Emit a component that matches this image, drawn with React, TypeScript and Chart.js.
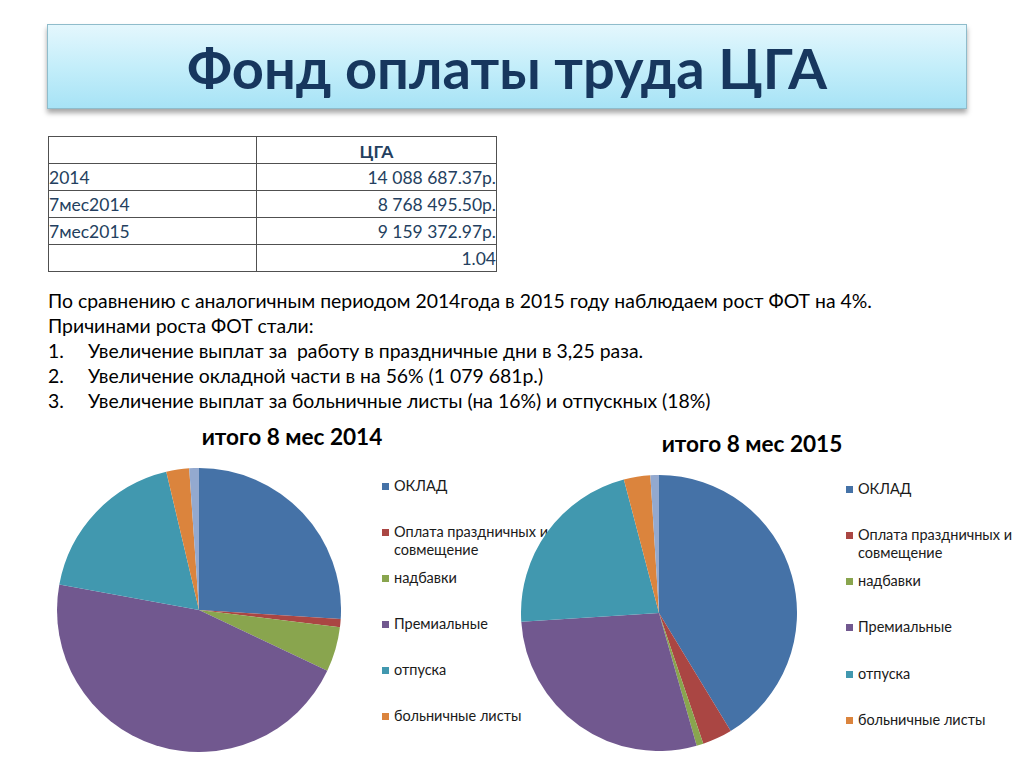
import React, { useEffect, useRef } from "react";
import { Chart, registerables } from "chart.js";

Chart.register(...registerables);

const categories = [
  "ОКЛАД",
  "Оплата праздничных и совмещение",
  "надбавки",
  "Премиальные",
  "отпуска",
  "больничные листы",
  "прочие",
];
const values2014 = [26.0, 0.92, 5.1, 45.8, 18.4, 2.6, 1.1];
const values2015 = [41.3, 3.5, 0.8, 28.4, 21.9, 3.1, 1.0];
const sliceColors = ["#4572A7", "#AA4643", "#89A54E", "#71588F", "#4198AF", "#DB843D", "#93A9CF"];
const legendCount = 6;

const tableHeader = "ЦГА";
const tableRowLabels = ["2014", "7мес2014", "7мес2015", ""];
const tableRowValues = ["14 088 687.37р.", "8 768 495.50р.", "9 159 372.97р.", "1.04"];

const introLines = [
  "По сравнению с аналогичным периодом 2014года в 2015 году наблюдаем рост ФОТ на 4%.",
  "Причинами роста ФОТ стали:",
];
const reasons = [
  "Увеличение выплат за  работу в праздничные дни в 3,25 раза.",
  "Увеличение окладной части в на 56% (1 079 681р.)",
  "Увеличение выплат за больничные листы (на 16%) и отпускных (18%)",
];

const FONT = "Lato, 'Open Sans', sans-serif";

function Pie({ values, left, top, size }: { values: number[]; left: number; top: number; size: number }) {
  const ref = useRef<HTMLCanvasElement | null>(null);
  useEffect(() => {
    if (!ref.current) return;
    const chart = new Chart(ref.current, {
      type: "pie",
      data: {
        labels: categories,
        datasets: [
          {
            data: values,
            backgroundColor: sliceColors,
            borderWidth: 0,
          },
        ],
      },
      options: {
        animation: false,
        responsive: false,
        maintainAspectRatio: false,
        layout: { padding: 0 },
        plugins: {
          legend: { display: false },
          tooltip: { enabled: false },
          title: { display: false },
        },
      },
    });
    return () => chart.destroy();
  }, [values]);
  return (
    <canvas
      ref={ref}
      width={size}
      height={size}
      style={{ position: "absolute", left, top, width: size, height: size }}
    />
  );
}

function Legend({ left, tops }: { left: number; tops: number[] }) {
  return (
    <>
      {categories.slice(0, legendCount).map((c, i) => (
        <div
          key={c}
          style={{
            position: "absolute",
            left,
            top: tops[i],
            width: 175,
            fontFamily: FONT,
            fontSize: 14.5,
            lineHeight: "18.3px",
            color: "#1a1a1a",
            display: "flex",
            alignItems: "flex-start",
          }}
        >
          <span
            style={{
              display: "inline-block",
              width: 7,
              height: 7,
              marginTop: 5.5,
              marginRight: 5,
              background: sliceColors[i],
              flex: "0 0 auto",
            }}
          />
          <span style={{ width: 156 }}>{c}</span>
        </div>
      ))}
    </>
  );
}

export default function App() {
  const rowTop = 136;
  const rowH = 27;
  return (
    <div
      style={{
        position: "fixed",
        left: 0,
        top: 0,
        width: 1024,
        height: 768,
        background: "#ffffff",
        overflow: "hidden",
      }}
    >
      {/* Title box */}
      <div
        style={{
          position: "absolute",
          left: 47,
          top: 24,
          width: 920,
          height: 85,
          background: "linear-gradient(to bottom, #e4f7fd 0%, #c4eefa 50%, #a7e3f6 100%)",
          border: "1px solid #8fbccb",
          boxShadow: "0 4px 5px rgba(0,0,0,0.35)",
          display: "flex",
          alignItems: "center",
          justifyContent: "center",
          fontFamily: FONT,
          fontWeight: 700,
          fontSize: 56,
          color: "#17375E",
          paddingTop: 2,
          boxSizing: "border-box",
        }}
      >
        Фонд оплаты труда ЦГА
      </div>

      {/* Table */}
      <table
        style={{
          position: "absolute",
          left: 48,
          top: rowTop,
          borderCollapse: "collapse",
          fontFamily: FONT,
          fontSize: 17.5,
          color: "#243F60",
        }}
      >
        <tbody>
          <tr style={{ height: rowH }}>
            <td style={{ width: 207, border: "1px solid #505050", padding: 0 }} />
            <td
              style={{
                width: 239,
                border: "1px solid #505050",
                padding: 0,
                paddingTop: 2,
                textAlign: "center",
                fontWeight: 700,
              }}
            >
              {tableHeader}
            </td>
          </tr>
          {tableRowLabels.map((l, i) => (
            <tr key={i} style={{ height: rowH }}>
              <td style={{ border: "1px solid #505050", padding: 0, paddingTop: 2, lineHeight: "22px" }}>{l}</td>
              <td
                style={{
                  border: "1px solid #505050",
                  padding: 0,
                  paddingTop: 2,
                  lineHeight: "22px",
                  textAlign: "right",
                }}
              >
                {tableRowValues[i]}
              </td>
            </tr>
          ))}
        </tbody>
      </table>

      {/* Text */}
      <div
        style={{
          position: "absolute",
          left: 48,
          top: 288,
          fontFamily: FONT,
          fontSize: 19.4,
          lineHeight: "25px",
          color: "#000",
          whiteSpace: "pre",
        }}
      >
        {introLines.map((t, i) => (
          <div key={i}>{t}</div>
        ))}
        {reasons.map((t, i) => (
          <div key={"r" + i} style={{ display: "flex" }}>
            <span style={{ width: 40, display: "inline-block" }}>{i + 1 + "."}</span>
            <span>{t}</span>
          </div>
        ))}
      </div>

      {/* Chart titles */}
      <div
        style={{
          position: "absolute",
          left: 172,
          width: 240,
          top: 423,
          textAlign: "center",
          fontFamily: FONT,
          fontWeight: 700,
          fontSize: 22.6,
          lineHeight: "28px",
          color: "#000",
        }}
      >
        итого 8 мес 2014
      </div>
      <div
        style={{
          position: "absolute",
          left: 632,
          width: 240,
          top: 430,
          textAlign: "center",
          fontFamily: FONT,
          fontWeight: 700,
          fontSize: 22.6,
          lineHeight: "28px",
          color: "#000",
        }}
      >
        итого 8 мес 2015
      </div>

      <Pie values={values2014} left={57} top={468} size={284} />
      <Legend left={382} tops={[477, 523, 569, 615, 661, 707]} />

      <Pie values={values2015} left={521} top={475} size={276} />
      <Legend left={846} tops={[480, 526, 572, 618, 665, 711]} />
    </div>
  );
}
